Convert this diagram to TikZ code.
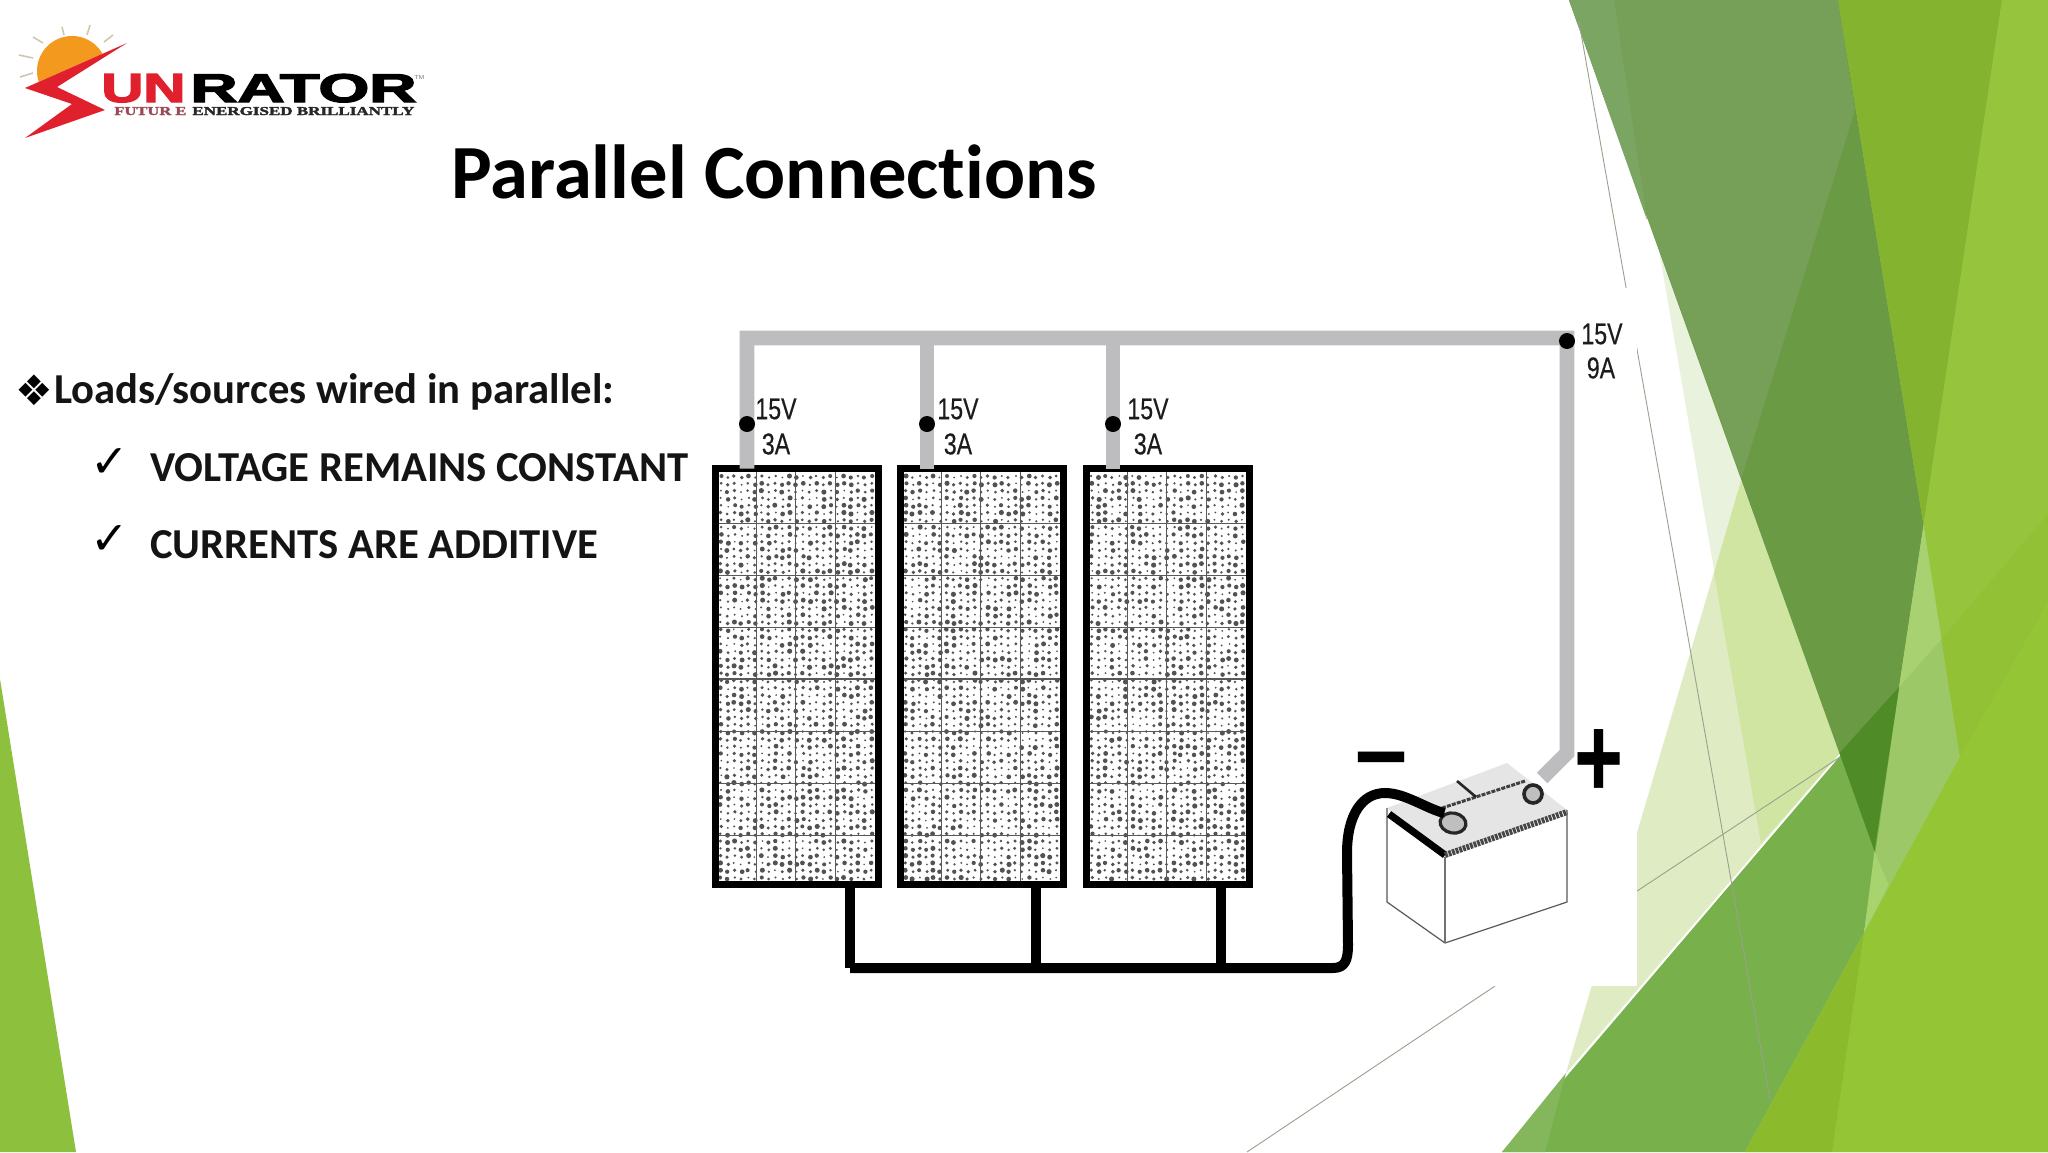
\documentclass[tikz,border=0pt]{standalone}
\usepackage{fontspec}
\usetikzlibrary{shapes.geometric}
\setmainfont[RawFeature=-liga]{Carlito}
\newfontfamily\labelfont[FakeBold=0.5]{Liberation Sans}
\newfontfamily\polarfont{Liberation Sans}
\newfontfamily\logofont[FakeBold=3]{Liberation Sans}
\newfontfamily\logoserif[FakeBold=2]{Liberation Serif}
\newfontfamily\symfont{DejaVu Sans}
\definecolor{wiregrey}{HTML}{BDBDBF}
\definecolor{inkdark}{HTML}{1C1C1C}
\definecolor{logored}{HTML}{E0202C}
\definecolor{logopink}{HTML}{9A4A55}
\definecolor{sunorange}{HTML}{F39A1E}
\definecolor{rayline}{HTML}{CFC8AE}
\definecolor{thinline}{HTML}{9AA08F}
\tikzset{
  titletext/.style={font=\bfseries\fontsize{38.3}{44}\selectfont,anchor=base west,inner sep=0pt},
  bodytext/.style={font=\bfseries\fontsize{21.33}{25}\selectfont,anchor=base west,inner sep=0pt,text=black!92},
  ticktext/.style={font=\symfont\fontsize{23}{25}\selectfont,inner sep=0pt},
  wirelabel/.style={font=\labelfont\fontsize{15}{17}\selectfont,inner sep=0pt,text=inkdark,xscale=0.77},
  panelbox/.style={draw=black,line width=3.5pt,fill=white,minimum width=81.5pt,minimum height=208pt,inner sep=0pt,outer sep=0pt},
  greywire/.style={draw=wiregrey,line width=7.4pt,line join=miter},
  blackwire/.style={draw=black,line width=5pt,line join=round},
  termdot/.style={circle,fill=black,minimum size=8pt,inner sep=0pt,outer sep=0pt},
  cellline/.style={draw=black!65,line width=0.5pt},
  hairline/.style={draw=thinline,line width=0.45pt},
  ray/.style={draw=rayline,line width=0.8pt},
}
\newcommand{\facetpoly}[2]{\definecolor{facetcol}{HTML}{#1}\fill[facetcol] #2;}
\newcommand{\panelfill}[1]{%
  \foreach \colidx in {0,...,22}{\foreach \rowidx in {0,...,55}{%
    \pgfmathsetmacro{\dotrad}{0.9+1.7*rnd}%
    \pgfmathsetmacro{\dotjit}{1.6*rnd}%
    \pgfmathsetmacro{\dotx}{#1+8+\dotjit+6.85*\colidx}%
    \pgfmathsetmacro{\doty}{476+1.5*mod(\colidx,2)+7.3*\rowidx}%
    \fill[black!68] (\dotx,\doty) circle[radius=\dotrad];}}%
  \foreach \gridx in {44,83,123}{\pgfmathsetmacro{\lnx}{#1+\gridx}\draw[cellline] (\lnx,470) -- (\lnx,882);}%
  \pgfmathsetmacro{\lna}{#1+5}\pgfmathsetmacro{\lnb}{#1+165}%
  \foreach \gridy in {523,575,627,731,783,835}{\draw[cellline] (\lna,\gridy) -- (\lnb,\gridy);}%
  \draw[cellline,line width=1pt] (\lna,679) -- (\lnb,679);%
}
\begin{document}
\begin{tikzpicture}[x=0.5pt,y=-0.5pt]
\pgfmathsetseed{11}
\path[use as bounding box,fill=white] (0,0) rectangle (2048,1152);
% background facets
\facetpoly{8DC03D}{(0,679) -- (76,1152) -- (0,1152) -- cycle}
\facetpoly{E9F2DC}{(1659,250) -- (1840,753) -- (1761,843) -- cycle}
\facetpoly{DFEBC2}{(1741,481) -- (1566,1073) -- (1840,753) -- cycle}
\facetpoly{D0E5A2}{(1741,481) -- (1840,753) -- (1761,843) -- (1714,573) -- cycle}
\facetpoly{9CC868}{(1838,0) -- (2048,0) -- (2048,1152) -- (1745,1152) -- (1864,933) -- (1874.5,851) -- cycle}
\facetpoly{78B04C}{(1502,1152) -- (1899,687) -- (1864,933) -- (1745,1152) -- cycle}
\facetpoly{84B65C}{(1502,1152) -- (1566,1073) -- (1545,1152) -- cycle}
\facetpoly{6B9A44}{(1569,0) -- (1838,0) -- (1923.5,525) -- (1874.5,851) -- cycle}
\facetpoly{769F57}{(1569,0) -- (1838,0) -- (1855,110) -- (1741.5,478) -- cycle}
\facetpoly{7BA562}{(1569,0) -- (1614,0) -- (1647,220) -- cycle}
\facetpoly{4F8B26}{(1839.5,753) -- (1899,687) -- (1874.5,851) -- cycle}
\facetpoly{83B32F}{(1838,0) -- (2002,0) -- (1923.5,525) -- cycle}
\facetpoly{96C43D}{(2002,0) -- (2048,0) -- (2048,602) -- (1960,757) -- (1923.5,525) -- cycle}
\facetpoly{92C136}{(1941.4,639) -- (2048,514) -- (2048,602) -- (1960,757) -- cycle}
\facetpoly{A8D172}{(1923.5,525) -- (1941.4,639) -- (1899,687) -- cycle}
\facetpoly{A7D46F}{(1874.5,851) -- (1888.5,885) -- (1864,933) -- cycle}
\facetpoly{94C534}{(1832,1152) -- (1864,933) -- (1960,757) -- (2048,602) -- (2048,1152) -- cycle}
\facetpoly{8BBB2C}{(1745,1152) -- (1864,933) -- (1832,1152) -- cycle}
% hairlines
\coordinate (hA) at (1579,22); \coordinate (hB) at (1770,1100);
\coordinate (hC) at (1637,891); \coordinate (hD) at (1840,757);
\coordinate (hE) at (1247,1152); \coordinate (hF) at (1495,986);
\draw[hairline] (hA) -- (hB);
\draw[hairline] (hC) -- (hD);
\draw[hairline] (hE) -- (hF);
% image backing
\fill[white] (700,288) rectangle (1637,986);
% logo
\foreach \ax/\ay/\bx/\by in {62/27/64/35, 90/25/87/35, 113/35/104/42, 33/37/43/43, 19/55/33/58, 20/77/33/73}
  {\draw[ray] (\ax,\ay) -- (\bx,\by);}
\begin{scope}
  \clip (20,0) -- (150,0) -- (127,43) -- (25,88) -- (20,88) -- cycle;
  \fill[sunorange] (72,71) circle[radius=35];
\end{scope}
\fill[logored] (127,43) -- (25,88) -- (72,104) -- (25,138) -- (105,110) -- (57,87) -- cycle;
\node[inner sep=0pt,anchor=base west,text=logored,font=\logofont\bfseries] (logoUN) at (101,102) {\resizebox{42pt}{14pt}{UN}};
\node[inner sep=0pt,anchor=base west,text=black,font=\logofont\bfseries] (logoRT) at (190,102) {\resizebox{113pt}{14pt}{RATOR}};
\node[inner sep=0pt,anchor=base west,text=black!50,font=\polarfont] (logoTM) at (414,79) {\resizebox{5pt}{2pt}{TM}};
\node[inner sep=0pt,anchor=base west,text=logopink,font=\logoserif\bfseries] (logoF) at (114,115) {\resizebox{36pt}{4pt}{FUTUR E}};
\node[inner sep=0pt,anchor=base west,text=black!85,font=\logoserif\bfseries] (logoE) at (192,115) {\resizebox{111pt}{4pt}{ENERGISED BRILLIANTLY}};
% title and body
\node[titletext] (title) at (451,198) {Parallel Connections};
\node[inner sep=0pt,font=\symfont\fontsize{21}{24}\selectfont] (bul) at (34,390) {❖};
\node[bodytext] (b1) at (54,403) {Loads/sources wired in parallel:};
\node[ticktext] (t1) at (110,463) {✓};
\node[bodytext] (b2) at (150,481) {VOLTAGE REMAINS CONSTANT};
\node[ticktext] (t2) at (110,540) {✓};
\node[bodytext] (b3) at (150,558) {CURRENTS ARE ADDITIVE};
% panels
\node[panelbox] (pan1) at (797,676.5) {};
\node[panelbox] (pan2) at (982,676.5) {};
\node[panelbox] (pan3) at (1168,676.5) {};
\panelfill{712}
\panelfill{897}
\panelfill{1083}
\draw[draw=black,line width=3.5pt] (pan1.north west) rectangle (pan1.south east);
\draw[draw=black,line width=3.5pt] (pan2.north west) rectangle (pan2.south east);
\draw[draw=black,line width=3.5pt] (pan3.north west) rectangle (pan3.south east);
% battery
\coordinate (bL) at (1387,808); \coordinate (bF) at (1445,857); \coordinate (bR) at (1567,810); \coordinate (bK) at (1507,763);
\coordinate (bLb) at (1387,902); \coordinate (bFb) at (1445,943); \coordinate (bRb) at (1567,902);
\fill[black!10] (bL) -- (bF) -- (bR) -- (bK) -- cycle;
\draw[black!65,line width=0.6pt] (bL) -- (bLb) -- (bFb) -- (bRb) -- (bR);
\draw[black!55,line width=0.6pt] (bF) -- (bFb);
\draw[black,line width=3.6pt] (1389,814) -- (1445,855);
\draw[black!72,line width=3pt,dash pattern=on 1.4pt off 0.5pt] (1445,855) -- (1567,812);
\draw[black!75,line width=1.5pt,dash pattern=on 2pt off 0.6pt] (1442,808) -- (1525,781);
\draw[black!85,line width=1.3pt] (1457,781) -- (1476,797);
\node[ellipse,draw=black!85,line width=1.6pt,fill=black!25,minimum width=13pt,minimum height=10pt,inner sep=0pt,rotate=-10] (minusT) at (1453,823) {};
\node[circle,draw=black!85,line width=1.8pt,fill=black!25,minimum size=9pt,inner sep=0pt] (plusT) at (1533,794) {};
% wiring
\coordinate (c1) at (747,338); \coordinate (c2) at (927,338); \coordinate (c3) at (1113,338); \coordinate (c4) at (1567,338);
\coordinate (c5) at (1567,753); \coordinate (c6) at (1542,778);
\draw[greywire,line cap=butt] (pan1.north -| c1) -- (c1) -- (c4) -- (c5) -- (c6);
\draw[greywire] (pan2.north -| c2) -- (c2);
\draw[greywire] (pan3.north -| c3) -- (c3);
\node[termdot] (d1) at (747,424) {};
\node[termdot] (d2) at (927,424) {};
\node[termdot] (d3) at (1113,424) {};
\node[termdot] (d4) at (1567,341) {};
\coordinate (bt1) at (850,968); \coordinate (bt2) at (1036,968); \coordinate (bt3) at (1221,968);
\draw[blackwire] (pan1.south -| bt1) -- (bt1);
\draw[blackwire] (pan2.south -| bt2) -- (bt2);
\draw[blackwire] (pan3.south -| bt3) -- (bt3);
\draw[blackwire] (bt1) -- (1333,968) .. controls (1345,968) and (1348,960) .. (1348,945) -- (1347,853) .. controls (1347,815) and (1362,793) .. (1385,793) .. controls (1405,793) and (1425,808) .. (minusT.north west);
% wire labels
\node[wirelabel] (v1) at (776,409) {15V};
\node[wirelabel] (a1) at (776,444) {3A};
\node[wirelabel] (v2) at (958,409) {15V};
\node[wirelabel] (a2) at (958,444) {3A};
\node[wirelabel] (v3) at (1148,409) {15V};
\node[wirelabel] (a3) at (1148,444) {3A};
\node[wirelabel] (v4) at (1602,334) {15V};
\node[wirelabel] (a4) at (1601,368) {9A};
% polarity
\node[inner sep=0pt,font=\polarfont\bfseries\fontsize{42}{44}\selectfont] (polM) at (1381,771) {\scalebox{1.1}[1.15]{−}};
\node[inner sep=0pt,font=\polarfont\bfseries\fontsize{42}{44}\selectfont] (polP) at (1599,763) {\scalebox{1}[1.38]{+}};
\end{tikzpicture}
\end{document}
